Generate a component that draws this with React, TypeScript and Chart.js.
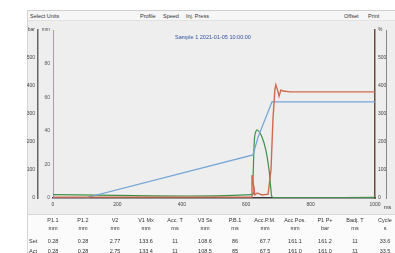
import React, { useEffect, useRef } from "react";
import { Chart, registerables } from "chart.js";

Chart.register(...registerables);

// ---- data ----
const xTicks = [0, 200, 400, 600, 800, 1000];
const chartTitle = "Sample 1 2021-01-05 10:00:00";

const posX = [0, 99, 621, 637, 680, 1000];
const posY = [0, 0, 154, 218, 343, 343];

const speedX = [0, 618, 621, 624, 627, 634, 649, 661, 671, 677, 683, 1000];
const speedY = [12, 12, 64, 171, 225, 243, 218, 171, 100, 29, 2, 2];

const pressX = [0, 615, 618, 627, 634, 649, 668, 677, 683, 689, 692, 699, 702, 708, 714, 736, 1000];
const pressY = [3, 3, 82, 11, 18, 11, 14, 100, 279, 386, 404, 379, 364, 386, 382, 379, 379];

const topLeftLabels = ["Select Units"];
const topMidLabels = ["Profile", "Speed", "Inj. Press"];
const topRightLabels = ["Offset", "Print"];

const tableHeaders = ["P1.1", "P1.2", "V2", "V1 Mx", "Acc. T", "V3 Ss", "P.B.1", "Acc.P.M.", "Acc.Pos.", "P1 P+", "Badj. T", "Cycle"];
const tableUnits = ["mm", "mm", "mm", "mm", "ms", "mm", "ms", "mm", "mm", "bar", "ms", "s"];
const rowLabels = ["Set", "Act"];
const row1 = ["0.28", "0.28", "2.77", "133.6", "11", "108.6", "86", "67.7", "161.1", "161.2", "11", "33.6"];
const row2 = ["0.28", "0.28", "2.75", "133.4", "11", "108.5", "85", "67.5", "161.0", "161.0", "11", "33.5"];

const colX = [53, 83, 115, 146, 175, 205, 235, 265, 295, 325, 355, 385];

const toPts = (xs: number[], ys: number[]) => xs.map((x, i) => ({ x, y: ys[i] }));

const FONT = "'Liberation Sans', 'DejaVu Sans', sans-serif";

export default function App() {
  const ref = useRef<HTMLCanvasElement | null>(null);

  useEffect(() => {
    if (!ref.current) return;
    const tickFont = { size: 5, family: FONT };
    const chart = new Chart(ref.current, {
      type: "line",
      data: {
        datasets: [
          {
            data: toPts(pressX, pressY),
            borderColor: "#cf6a4e",
            borderWidth: 1.4,
            pointRadius: 0,
            tension: 0,
            yAxisID: "yL",
          },
          {
            data: toPts(posX, posY),
            borderColor: "#74a4d6",
            borderWidth: 1.2,
            pointRadius: 0,
            tension: 0,
            yAxisID: "yL",
          },
          {
            data: toPts(speedX, speedY),
            borderColor: "#3f8f48",
            borderWidth: 1.2,
            pointRadius: 0,
            tension: 0.3,
            yAxisID: "yL",
          },
        ],
      },
      options: {
        animation: false,
        responsive: false,
        maintainAspectRatio: false,
        layout: { padding: { top: 10, left: 0, right: 0, bottom: 0 } },
        plugins: { legend: { display: false }, tooltip: { enabled: false }, title: { display: false } },
        scales: {
          x: {
            type: "linear",
            min: 0,
            max: 1000,
            position: "bottom",
            afterBuildTicks: (s: any) => {
              s.ticks = xTicks.map((v) => ({ value: v }));
            },
            afterFit: (s: any) => {
              s.height = 17;
            },
            grid: { display: false, drawTicks: true, tickLength: 2 },
            border: { display: true, color: "#3a3a3a", width: 1.5 },
            ticks: {
              font: tickFont,
              color: "#444",
              padding: 2,
              maxRotation: 0,
              autoSkip: false,
              callback: (v: any) => String(v),
            },
          },
          yL2: {
            type: "linear",
            position: "left",
            min: 0,
            max: 100,
            ticks: {
              stepSize: 20,
              font: tickFont,
              color: "#555",
              padding: 1,
              callback: (v: any) => (v === 100 ? "mm" : String(v)),
            },
            afterFit: (s: any) => {
              s.width = 15;
            },
            grid: { display: false, tickLength: 2 },
            border: { display: true, color: "#a8a86a", width: 1 },
          },
          yL: {
            type: "linear",
            position: "left",
            min: 0,
            max: 600,
            ticks: {
              stepSize: 100,
              font: tickFont,
              color: "#444",
              padding: 1,
              callback: (v: any) => (v === 600 ? "bar" : String(v)),
            },
            afterFit: (s: any) => {
              s.width = 11;
            },
            grid: { display: false, tickLength: 2 },
            border: { display: true, color: "#666", width: 1.5 },
          },
          yR: {
            type: "linear",
            position: "right",
            min: 0,
            max: 600,
            ticks: {
              stepSize: 100,
              font: tickFont,
              color: "#444",
              padding: 1,
              callback: (v: any) => (v === 600 ? "%" : String(v)),
            },
            afterFit: (s: any) => {
              s.width = 11;
            },
            grid: { display: false, tickLength: 2 },
            border: { display: true, color: "#6a4a3a", width: 1.5 },
          },
          yR2: {
            type: "linear",
            position: "right",
            min: 0,
            max: 100,
            ticks: { display: false },
            afterFit: (s: any) => {
              s.width = 9;
            },
            grid: { display: false, tickLength: 0 },
            border: { display: true, color: "#888", width: 1 },
          },
        },
      } as any,
    });
    return () => chart.destroy();
  }, []);

  const txt: React.CSSProperties = {
    position: "absolute",
    fontFamily: FONT,
    fontSize: 5.5,
    color: "#333",
    whiteSpace: "nowrap",
    lineHeight: "6px",
  };

  return (
    <div style={{ position: "fixed", left: 0, top: 0, width: 395, height: 253, background: "#fff", overflow: "hidden" }}>
      {/* panel */}
      <div style={{ position: "absolute", left: 27, top: 10, width: 368, height: 243, background: "#eeeeee", borderLeft: "1px solid #d6d6d6", borderTop: "1px solid #cfcfcf" }} />
      {/* top bar */}
      <div style={{ position: "absolute", left: 28, top: 11, width: 367, height: 9, background: "#f6f6f6", borderBottom: "1px solid #e2e2e2" }} />
      {topLeftLabels.map((t, i) => (
        <div key={"tl" + i} style={{ ...txt, left: 30, top: 13 }}>{t}</div>
      ))}
      {topMidLabels.map((t, i) => (
        <div key={"tm" + i} style={{ ...txt, left: [140, 163, 186][i], top: 13 }}>{t}</div>
      ))}
      {topRightLabels.map((t, i) => (
        <div key={"tr" + i} style={{ ...txt, left: [344, 368][i], top: 13 }}>{t}</div>
      ))}
      {/* chart */}
      <canvas ref={ref} width={368} height={195} style={{ position: "absolute", left: 27, top: 20, width: 368, height: 195 }} />
      <div style={{ ...txt, left: 175, top: 34, color: "#3050a0" }}>{chartTitle}</div>
      <div style={{ ...txt, left: 384, top: 204 }}>ms</div>
      {/* table */}
      <div style={{ position: "absolute", left: 28, top: 214, width: 367, height: 39, background: "#fbfbfb", borderTop: "1px solid #d8d8d8" }} />
      {tableHeaders.map((t, i) => (
        <div key={"h" + i} style={{ ...txt, left: colX[i], top: 217, transform: "translateX(-50%)" }}>{t}</div>
      ))}
      {tableUnits.map((t, i) => (
        <div key={"u" + i} style={{ ...txt, left: colX[i], top: 225, transform: "translateX(-50%)" }}>{t}</div>
      ))}
      {rowLabels.map((t, i) => (
        <div key={"r" + i} style={{ ...txt, left: 29, top: 238 + i * 10 }}>{t}</div>
      ))}
      {row1.map((t, i) => (
        <div key={"a" + i} style={{ ...txt, left: colX[i], top: 238, transform: "translateX(-50%)" }}>{t}</div>
      ))}
      {row2.map((t, i) => (
        <div key={"b" + i} style={{ ...txt, left: colX[i], top: 248, transform: "translateX(-50%)" }}>{t}</div>
      ))}
    </div>
  );
}
